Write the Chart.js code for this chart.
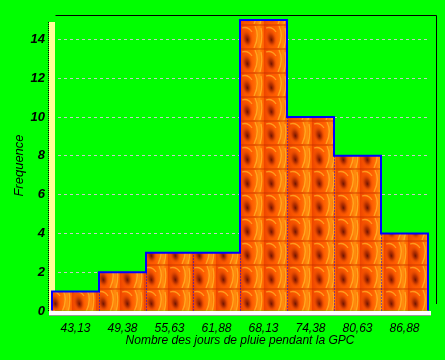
<!DOCTYPE html>
<html lang="fr">
  <head>
    <meta charset="UTF-8" />
    <title>Histogramme GPC</title>
    <script src="https://cdn.jsdelivr.net/npm/chart.js"></script>
    <style>
      html, body { margin: 0; padding: 0; background: #00ff00; }
      #wrap { width: 445px; height: 360px; }
    </style>
  </head>
  <body>
    <div id="wrap"><canvas id="histo" width="445" height="360"></canvas></div>
    <script>
      // data
      const categories = ["43,13", "49,38", "55,63", "61,88", "68,13", "74,38", "80,63", "86,88"];
      const frequencies = [1, 2, 3, 3, 15, 10, 8, 4];
      const yTicks = [0, 2, 4, 6, 8, 10, 12, 14];

      // small flame-like tile used to fill the bars
      function flameTile() {
        const c = document.createElement("canvas");
        c.width = 24;
        c.height = 24;
        const g = c.getContext("2d");
        g.fillStyle = "#ff5a00";
        g.fillRect(0, 0, 24, 24);
        let lg = g.createLinearGradient(0, 0, 24, 0);
        lg.addColorStop(0, "rgba(225,55,0,0.6)");
        lg.addColorStop(0.45, "rgba(255,100,0,0.2)");
        lg.addColorStop(0.8, "rgba(255,165,20,0.7)");
        lg.addColorStop(1, "rgba(255,110,0,0.3)");
        g.fillStyle = lg;
        g.fillRect(0, 0, 24, 24);
        // yellow streaks
        g.strokeStyle = "rgba(255,200,50,0.6)";
        g.lineWidth = 1.3;
        g.beginPath();
        g.moveTo(14, 24); g.quadraticCurveTo(20, 12, 15, 2);
        g.moveTo(20, 24); g.quadraticCurveTo(23, 14, 21, 4);
        g.moveTo(2, 4); g.quadraticCurveTo(8, 2, 12, 8);
        g.stroke();
        // dark drop
        g.save();
        g.translate(7, 14);
        g.rotate(-0.2);
        g.scale(0.6, 1);
        const rg = g.createRadialGradient(0, 2, 0, 0, 0, 10);
        rg.addColorStop(0, "rgba(110,20,0,1)");
        rg.addColorStop(0.4, "rgba(170,40,0,0.75)");
        rg.addColorStop(1, "rgba(255,90,0,0)");
        g.fillStyle = rg;
        g.beginPath();
        g.arc(0, 0, 10, 0, Math.PI * 2);
        g.fill();
        g.restore();
        // darker band at tile top
        g.fillStyle = "rgba(190,45,0,0.35)";
        g.fillRect(0, 0, 24, 2);
        return c;
      }

      const ctx = document.getElementById("histo").getContext("2d");
      const flame = ctx.createPattern(flameTile(), "repeat");

      // 3D-ish walls behind the bars
      const wallsPlugin = {
        id: "walls",
        beforeDatasetsDraw(chart) {
          const a = chart.chartArea;
          const c = chart.ctx;
          c.save();
          // back frame
          c.strokeStyle = "#000";
          c.lineWidth = 1;
          c.beginPath();
          c.moveTo(a.left + 3.5, a.top - 4.5);
          c.lineTo(a.right + 8.5, a.top - 4.5);
          c.lineTo(a.right + 8.5, a.bottom - 7);
          c.stroke();
          // left wall
          c.fillStyle = "#ffff99";
          c.fillRect(a.left - 3, a.top + 2, 6, a.bottom - a.top - 2);
          c.setLineDash([1, 1]);
          c.beginPath();
          c.moveTo(a.left - 3.5, a.top + 2);
          c.lineTo(a.left - 3.5, a.bottom);
          c.stroke();
          c.setLineDash([]);
          // floor
          c.fillStyle = "#ffffff";
          c.fillRect(a.left - 3, a.bottom, a.right - a.left + 6, 4);
          c.strokeStyle = "#999";
          c.beginPath();
          c.moveTo(a.left - 3, a.bottom + 4.5);
          c.lineTo(a.right + 3, a.bottom + 4.5);
          c.stroke();
          c.restore();
        },
        afterDatasetsDraw(chart) {
          const bars = chart.getDatasetMeta(0).data;
          const c = chart.ctx;
          c.save();
          c.strokeStyle = "#0000ff";
          // outer step outline
          c.lineWidth = 2;
          c.beginPath();
          bars.forEach((b, i) => {
            const p = b.getProps(["x", "y", "base", "width"], true);
            const l = p.x - p.width / 2;
            const r = p.x + p.width / 2;
            if (i === 0) c.moveTo(l, p.base);
            c.lineTo(l, p.y);
            c.lineTo(r, p.y);
            if (i === bars.length - 1) c.lineTo(r, p.base);
          });
          c.stroke();
          // dotted separators between bars
          c.lineWidth = 1;
          c.setLineDash([1, 2]);
          c.beginPath();
          for (let i = 1; i < bars.length; i++) {
            const p = bars[i].getProps(["x", "y", "base", "width"], true);
            const q = bars[i - 1].getProps(["y"], true);
            const l = Math.round(p.x - p.width / 2) + 0.5;
            c.moveTo(l, p.base);
            c.lineTo(l, Math.max(p.y, q.y));
          }
          c.stroke();
          c.restore();
        },
      };

      new Chart(ctx, {
        type: "bar",
        data: {
          labels: categories,
          datasets: [
            {
              label: "Frequence",
              data: frequencies,
              backgroundColor: flame,
              borderWidth: 0,
              barPercentage: 1,
              categoryPercentage: 1,
            },
          ],
        },
        options: {
          responsive: false,
          animation: false,
          events: [],
          layout: { padding: { top: 20, right: 17, left: 12, bottom: 12 } },
          plugins: {
            legend: { display: false },
            tooltip: { enabled: false },
          },
          scales: {
            x: {
              afterFit(scale) {
                scale.height = 37;
              },
              grid: { display: false, drawTicks: false },
              border: { display: false },
              ticks: {
                color: "#000",
                font: { family: "Liberation Sans", size: 12, style: "italic" },
                padding: 10,
              },
              title: {
                display: true,
                text: "Nombre des jours de pluie pendant la GPC",
                color: "#000",
                font: { family: "Liberation Sans", size: 12, style: "italic" },
                padding: 0,
              },
            },
            y: {
              min: 0,
              max: 15,
              afterBuildTicks(axis) {
                axis.ticks = yTicks.map((v) => ({ value: v }));
              },
              afterFit(scale) {
                scale.width = 40;
              },
              grid: {
                color: "#c8c8c8",
                drawTicks: false,
              },
              border: { display: false, dash: [3, 3] },
              ticks: {
                color: "#000",
                padding: 7,
                font: { family: "Liberation Sans", size: 13, style: "italic", weight: "bold" },
              },
              title: {
                display: true,
                text: "Frequence",
                color: "#000",
                font: { family: "Liberation Sans", size: 13, style: "italic" },
                padding: 0,
              },
            },
          },
        },
        plugins: [wallsPlugin],
      });
    </script>
  </body>
</html>
